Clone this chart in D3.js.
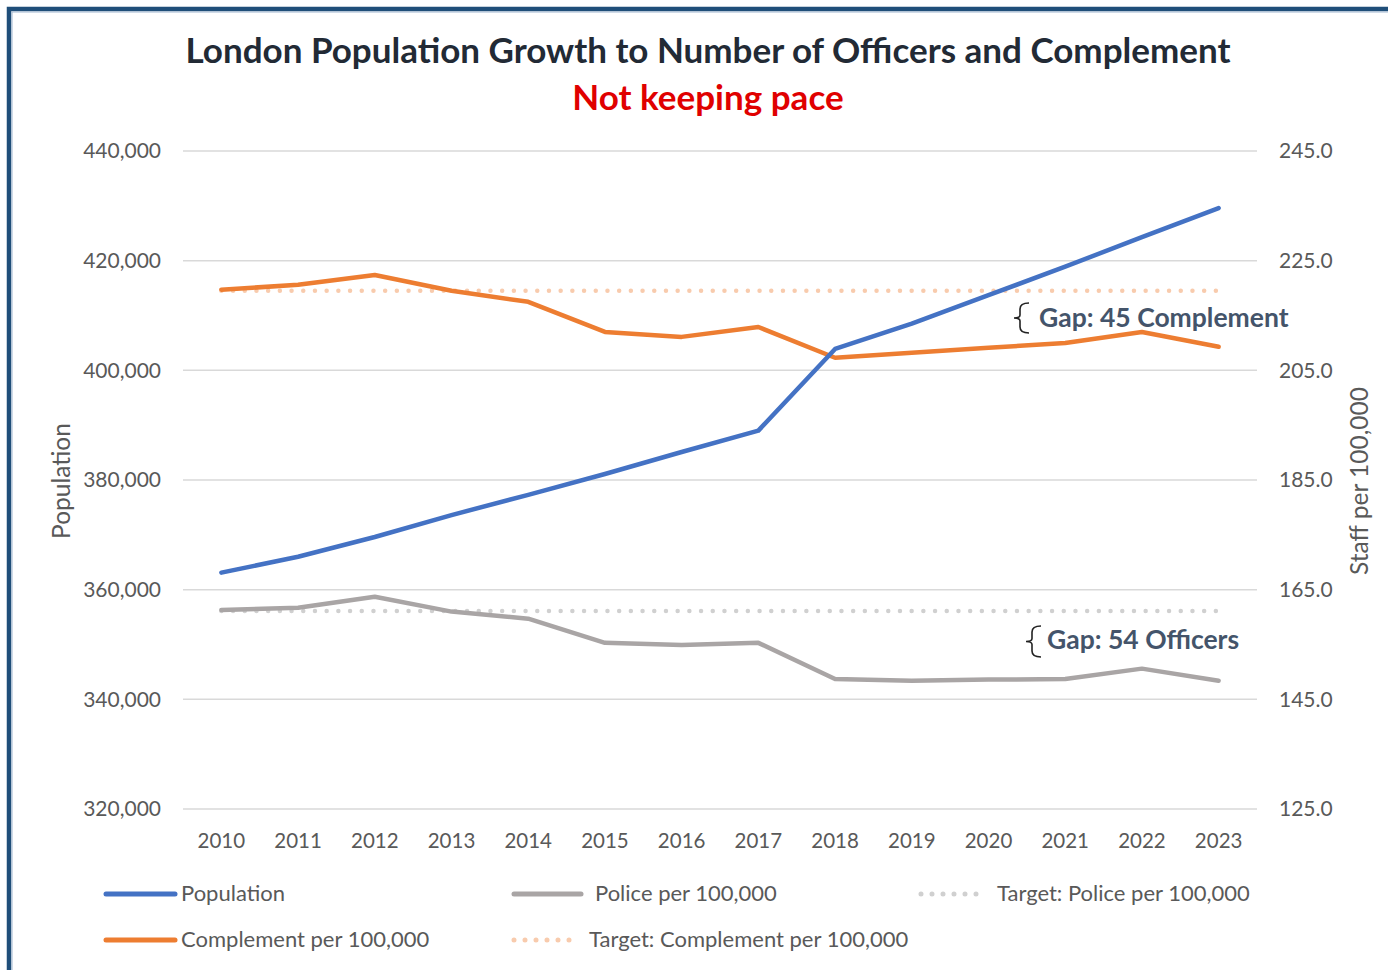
<!DOCTYPE html>
<html>
<head>
<meta charset="utf-8">
<script src="https://cdn.jsdelivr.net/npm/d3@7"></script>
<style>
  body { margin: 0; background: #fff; }
  svg { display: block; font-family: Lato, "Open Sans", sans-serif; }
</style>
</head>
<body>
<script>
// data
var years = ["2010","2011","2012","2013","2014","2015","2016","2017","2018","2019","2020","2021","2022","2023"];
var population = [363100, 366000, 369600, 373600, 377300, 381100, 385100, 389000, 403900, 408500, 413700, 418900, 424300, 429600];
var complement = [219.7, 220.6, 222.4, 219.5, 217.5, 212.0, 211.1, 212.9, 207.3, 208.2, 209.1, 210.0, 212.0, 209.3];
var police = [161.3, 161.7, 163.7, 161.0, 159.7, 155.3, 154.9, 155.3, 148.7, 148.4, 148.6, 148.7, 150.6, 148.4];
var targetComplement = 219.5;
var targetPolice = 161.1;
var leftTicks = [320000, 340000, 360000, 380000, 400000, 420000, 440000];
var rightTicks = [125, 145, 165, 185, 205, 225, 245];

var W = 1388, H = 970;
var plot = {left: 183, right: 1257, top: 151, bottom: 809};

var svg = d3.select("body").append("svg")
    .attr("width", W)
    .attr("height", H);

svg.append("rect").attr("width", W).attr("height", H).attr("fill", "#fff");

// frame (cut off on the right and bottom in the reference)
svg.append("rect")
    .attr("x", 9).attr("y", 9)
    .attr("width", W + 20).attr("height", H + 20)
    .attr("fill", "none")
    .attr("stroke", "#1f4e79")
    .attr("stroke-width", 4.5);
svg.append("rect")
    .attr("x", 12).attr("y", 12)
    .attr("width", W + 20).attr("height", H + 20)
    .attr("fill", "none")
    .attr("stroke", "#9fb6cf")
    .attr("stroke-width", 1);

var x = d3.scaleBand().domain(years).range([plot.left, plot.right]);
var px = function(d) { return x(d) + x.bandwidth() / 2; };
var yL = d3.scaleLinear().domain([320000, 440000]).range([plot.bottom, plot.top]);
var yR = d3.scaleLinear().domain([125, 245]).range([plot.bottom, plot.top]);

// title
svg.append("text")
    .attr("x", 708).attr("y", 63)
    .attr("text-anchor", "middle")
    .attr("font-size", 35).attr("font-weight", "bold")
    .attr("fill", "#222a35")
    .text("London Population Growth to Number of Officers and Complement");
svg.append("text")
    .attr("x", 708).attr("y", 110)
    .attr("text-anchor", "middle")
    .attr("font-size", 35).attr("font-weight", "bold")
    .attr("fill", "#e00000")
    .text("Not keeping pace");

// gridlines
svg.append("g").selectAll("line")
    .data(leftTicks)
    .enter().append("line")
    .attr("x1", plot.left).attr("x2", plot.right)
    .attr("y1", function(d) { return yL(d); })
    .attr("y2", function(d) { return yL(d); })
    .attr("stroke", "#d9d9d9")
    .attr("stroke-width", 1.5);

function styleAxis(size) {
    return function(g) {
        g.select(".domain").remove();
        g.selectAll("text")
            .attr("fill", "#595959")
            .attr("font-size", size)
            .attr("font-family", "Lato, sans-serif");
    };
}

svg.append("g")
    .attr("transform", "translate(" + plot.left + ",0)")
    .call(d3.axisLeft(yL).tickValues(leftTicks).tickSize(0).tickPadding(22).tickFormat(d3.format(",")))
    .call(styleAxis(21));

svg.append("g")
    .attr("transform", "translate(" + plot.right + ",0)")
    .call(d3.axisRight(yR).tickValues(rightTicks).tickSize(0).tickPadding(22).tickFormat(d3.format(".1f")))
    .call(styleAxis(21));

svg.append("g")
    .attr("transform", "translate(0," + plot.bottom + ")")
    .call(d3.axisBottom(x).tickSize(0).tickPadding(24))
    .call(styleAxis(20.5));

// axis titles
svg.append("text")
    .attr("transform", "translate(70,481) rotate(-90)")
    .attr("text-anchor", "middle")
    .attr("font-size", 24.5).attr("fill", "#595959")
    .text("Population");
svg.append("text")
    .attr("transform", "translate(1368,481) rotate(-90)")
    .attr("text-anchor", "middle")
    .attr("font-size", 24.5).attr("fill", "#595959")
    .text("Staff per 100,000");

// target lines
var dotted = "0 11.7";
svg.append("line")
    .attr("x1", px(years[0])).attr("x2", px(years[years.length - 1]))
    .attr("y1", yR(targetPolice)).attr("y2", yR(targetPolice))
    .attr("stroke", "#d0d0d0").attr("stroke-width", 4.5)
    .attr("stroke-linecap", "round").attr("stroke-dasharray", dotted);
svg.append("line")
    .attr("x1", px(years[0])).attr("x2", px(years[years.length - 1]))
    .attr("y1", yR(targetComplement)).attr("y2", yR(targetComplement))
    .attr("stroke", "#f8cbad").attr("stroke-width", 4.5)
    .attr("stroke-linecap", "round").attr("stroke-dasharray", dotted);

// series lines
function drawLine(values, y, color) {
    var line = d3.line()
        .x(function(d, i) { return px(years[i]); })
        .y(function(d) { return y(d); });
    svg.append("path")
        .datum(values)
        .attr("d", line)
        .attr("fill", "none")
        .attr("stroke", color)
        .attr("stroke-width", 4.5)
        .attr("stroke-linejoin", "round")
        .attr("stroke-linecap", "round");
}
drawLine(police, yR, "#a9a5a5");
drawLine(complement, yR, "#ed7d31");
drawLine(population, yL, "#4472c4");

// gap annotations
function brace(xTip, y0, y1) {
    var xr = xTip + 15, ym = (y0 + y1) / 2;
    return "M" + xr + "," + y0 + " Q" + (xTip + 6) + "," + y0 + " " + (xTip + 6) + "," + (y0 + 6) +
        " L" + (xTip + 6) + "," + (ym - 3) + " Q" + (xTip + 6) + "," + ym + " " + xTip + "," + ym +
        " Q" + (xTip + 6) + "," + ym + " " + (xTip + 6) + "," + (ym + 3) +
        " L" + (xTip + 6) + "," + (y1 - 6) + " Q" + (xTip + 6) + "," + y1 + " " + xr + "," + y1;
}
svg.append("path").attr("d", brace(1014, 303, 333))
    .attr("fill", "none").attr("stroke", "#222").attr("stroke-width", 1.6);
svg.append("text")
    .attr("x", 1039).attr("y", 327)
    .attr("font-size", 26.5).attr("font-weight", "bold").attr("fill", "#44546a")
    .text("Gap: 45 Complement");
svg.append("path").attr("d", brace(1026, 626, 657))
    .attr("fill", "none").attr("stroke", "#222").attr("stroke-width", 1.6);
svg.append("text")
    .attr("x", 1047).attr("y", 649)
    .attr("font-size", 26.5).attr("font-weight", "bold").attr("fill", "#44546a")
    .text("Gap: 54 Officers");

// legend
var legend = [
    {label: "Population", color: "#4472c4", dash: null, x1: 106, x2: 175, tx: 181, y: 894},
    {label: "Police per 100,000", color: "#a9a5a5", dash: null, x1: 514, x2: 581, tx: 595, y: 894},
    {label: "Target: Police per 100,000", color: "#d0d0d0", dash: "0 11", x1: 921, x2: 984, tx: 997, y: 894},
    {label: "Complement per 100,000", color: "#ed7d31", dash: null, x1: 106, x2: 175, tx: 181, y: 940},
    {label: "Target: Complement per 100,000", color: "#f8cbad", dash: "0 11", x1: 514, x2: 576, tx: 589, y: 940}
];
var lg = svg.append("g").selectAll("g").data(legend).enter().append("g");
lg.append("line")
    .attr("x1", function(d) { return d.x1; })
    .attr("x2", function(d) { return d.x2; })
    .attr("y1", function(d) { return d.y; })
    .attr("y2", function(d) { return d.y; })
    .attr("stroke", function(d) { return d.color; })
    .attr("stroke-width", 5)
    .attr("stroke-linecap", "round")
    .attr("stroke-dasharray", function(d) { return d.dash; });
lg.append("text")
    .attr("x", function(d) { return d.tx; })
    .attr("y", function(d) { return d.y + 7; })
    .attr("font-size", 22)
    .attr("fill", "#595959")
    .text(function(d) { return d.label; });
</script>
</body>
</html>
